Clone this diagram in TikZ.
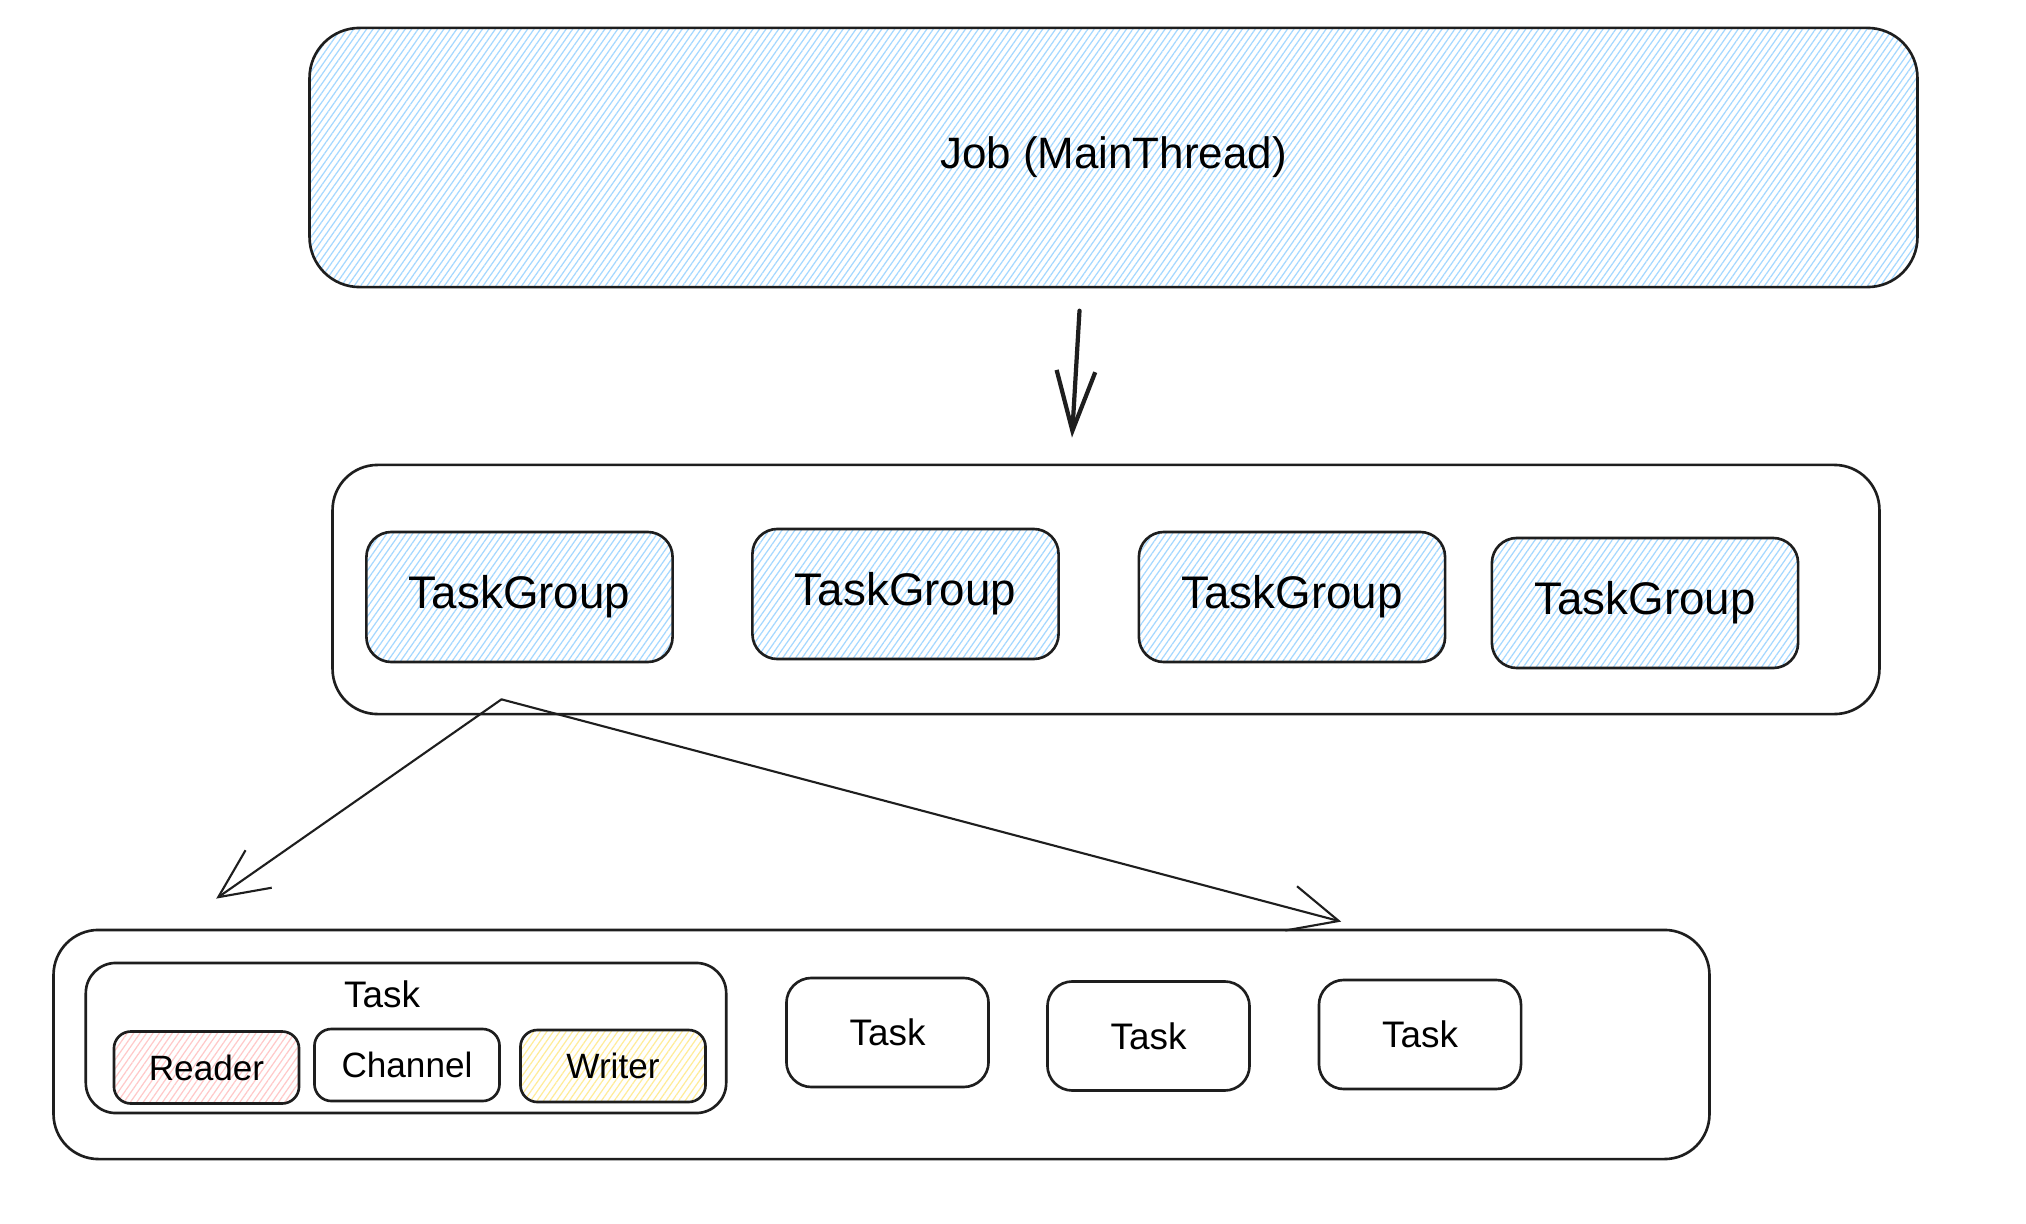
\documentclass[tikz,border=0pt]{standalone}
\usepackage{fontspec}
\setmainfont{Liberation Sans}
\usetikzlibrary{arrows.meta,patterns.meta,calc}
\definecolor{hblue}{HTML}{A5D8FF}
\definecolor{hred}{HTML}{FFC9C9}
\definecolor{hyellow}{HTML}{FFEC99}
\definecolor{ink}{HTML}{1E1E1E}
\tikzset{
  box/.style={draw=ink, line width=0.75pt, rectangle, inner sep=0pt},
  hatch/.style={pattern={Lines[angle=55,distance=1.5pt,line width=0.35pt]}, pattern color=#1},
  bigarrow/.style={draw=ink, line width=1.2pt, line cap=round, -{Straight Barb[length=17pt,width=11pt,line width=1.2pt]}},
  thinarrow/.style={draw=ink, line width=0.6pt, line cap=round, -{Straight Barb[length=14pt,width=13pt,line width=0.6pt]}},
}
\begin{document}
\begin{tikzpicture}[x=0.01cm,y=-0.01cm]
\fill[white] (0,0) rectangle (2026,1224);
\useasboundingbox (0,0) rectangle (2026,1224);
% Job
\node[box, hatch=hblue, rounded corners=0.5cm, minimum width=16.07cm, minimum height=2.59cm,
  font=\fontsize{12.5}{15}\selectfont] (job) at (1113.5,157.5) {Job (MainThread)};
% TaskGroup container
\node[box, rounded corners=0.45cm, minimum width=15.46cm, minimum height=2.49cm] (tgc) at (1106,589.5) {};
\tikzset{tgbox/.style={box, hatch=hblue, rounded corners=0.25cm, minimum width=3.06cm, minimum height=1.30cm,
  font=\fontsize{13}{15}\selectfont}}
\node[tgbox] (tg1) at (519.5,597) {TaskGroup};
\node[tgbox] (tg2) at (905.5,594) {TaskGroup};
\node[tgbox] (tg3) at (1292,597) {TaskGroup};
\node[tgbox] (tg4) at (1645,603) {TaskGroup};
% Task container
\node[box, rounded corners=0.45cm, minimum width=16.55cm, minimum height=2.29cm] (bc) at (881.5,1044.5) {};
\node[box, rounded corners=0.3cm, minimum width=6.40cm, minimum height=1.50cm] (task0) at (406,1038) {};
\node[font=\fontsize{10.5}{12}\selectfont] (task0label) at (382,994) {Task};
\tikzset{part/.style={box, rounded corners=0.17cm, minimum width=1.85cm, minimum height=0.72cm,
  font=\fontsize{10}{12}\selectfont}}
\node[part, hatch=hred] (reader) at (206.5,1067.5) {Reader};
\node[part] (channel) at (407,1065) {Channel};
\node[part, hatch=hyellow] (writer) at (613,1066) {Writer};
\tikzset{taskbox/.style={box, rounded corners=0.25cm, minimum width=2.02cm, minimum height=1.09cm,
  font=\fontsize{10.5}{12}\selectfont}}
\node[taskbox] (t1) at (887.5,1032.5) {Task};
\node[taskbox] (t2) at (1148.5,1036) {Task};
\node[taskbox] (t3) at (1420,1034.5) {Task};
% arrows
\coordinate (a0) at ($(job.south)+(-34,23)$);
\coordinate (a1) at ($(tgc.north)+(-34,-26)$);
\draw[bigarrow] (a0) -- (a1);
\coordinate (s) at ($(tg1.south)+(-18,36)$);
\coordinate (e1) at ($(bc.north west)+(164,-30)$);
\coordinate (e2) at ($(bc.north west)+(1289,-7)$);
\draw[thinarrow] (s) -- (e1);
\draw[thinarrow] (s) -- (e2);
\end{tikzpicture}
\end{document}
